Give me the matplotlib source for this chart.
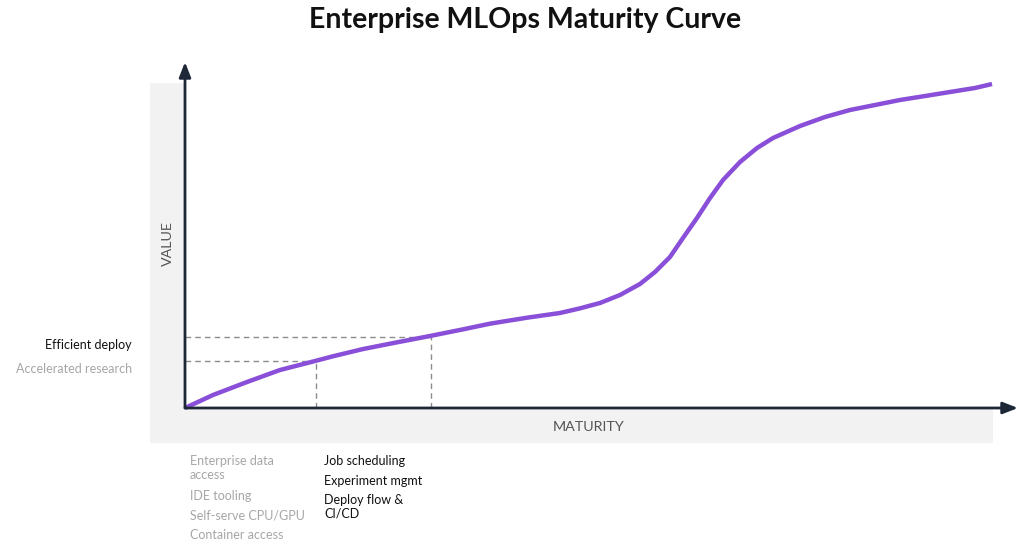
import matplotlib
matplotlib.use('Agg')
import numpy as np
import matplotlib.pyplot as plt
from matplotlib.patches import Rectangle

plt.rcParams['font.family'] = ['Lato', 'DejaVu Sans']

# curve (maturity vs value, 0-100 units)
maturity = [0, 3.36, 7.44, 11.40, 15.61, 17.77, 21.37, 25.45, 29.41, 33.37,
            36.61, 41.06, 45.02, 47.42, 49.82, 52.22, 54.62, 56.42, 58.22,
            59.78, 61.46, 63.03, 64.59, 66.63, 68.67, 70.59, 73.83, 76.83,
            79.83, 82.83, 85.83, 88.84, 91.84, 94.84, 96.88]
value = [0, 3.76, 7.51, 10.98, 13.58, 14.95, 17.04, 18.98, 20.81, 22.73,
         24.37, 26.10, 27.46, 28.80, 30.35, 32.66, 35.84, 39.31, 43.64,
         49.13, 54.91, 60.69, 65.90, 71.10, 75.14, 78.03, 81.50, 84.10,
         86.13, 87.57, 89.02, 90.17, 91.33, 92.49, 93.64]

# stage markers on the curve
stage_x = [15.7, 29.5]
stage_y = [13.6, 20.5]
stage_names = ['Accelerated research', 'Efficient deploy']
stage_colors = ['#a6a6a6', '#111111']

early_caps = ['Enterprise data\naccess', 'IDE tooling', 'Self-serve CPU/GPU',
              'Container access']
later_caps = ['Job scheduling', 'Experiment mgmt', 'Deploy flow &\nCI/CD']

W, H = 1024, 544
fig = plt.figure(figsize=(W / 100, H / 100), dpi=100)
ax = fig.add_axes([185 / W, (H - 408) / H, (1018 - 185) / W, (408 - 62) / H])
ax.set_xlim(0, 100)
ax.set_ylim(0, 100)
ax.axis('off')

axis_col = '#1e2738'
# grey panel behind the plot
ax.add_patch(Rectangle((-4.2, -10.1), 101.2, 104.0, facecolor='#f2f2f2',
                       edgecolor='none', clip_on=False, zorder=0))
# white inner area
ax.add_patch(Rectangle((0, 0), 97.0, 94.0, facecolor='white',
                       edgecolor='none', clip_on=False, zorder=0.5))

# dashed guides
for sx, sy in zip(stage_x, stage_y):
    ax.plot([0, sx], [sy, sy], ls=(0, (4, 3)), color='#8c8c8c', lw=1, zorder=1)
    ax.plot([sx, sx], [0, sy], ls=(0, (4, 3)), color='#8c8c8c', lw=1, zorder=1)

ax.plot(maturity, value, color='#8a4fd8', lw=3.2, solid_capstyle='butt',
        solid_joinstyle='round', zorder=3, clip_on=False)

# axis arrows
ax.annotate('', xy=(100, 0), xytext=(0, 0),
            arrowprops=dict(arrowstyle='-|>,head_length=0.9,head_width=0.35',
                            color=axis_col, lw=2, shrinkA=0, shrinkB=0),
            annotation_clip=False, zorder=4)
ax.annotate('', xy=(0, 100), xytext=(0, 0),
            arrowprops=dict(arrowstyle='-|>,head_length=0.9,head_width=0.35',
                            color=axis_col, lw=2, shrinkA=0, shrinkB=0),
            annotation_clip=False, zorder=4)

fig.text(525 / W, 1 - 20 / H, 'Enterprise MLOps Maturity Curve',
         ha='center', va='center', fontsize=20.5, fontweight='bold',
         color='#111111')
fig.text(168 / W, 1 - 244 / H, 'VALUE', rotation=90, ha='center',
         va='center', fontsize=10.3, color='#555555')
fig.text(589 / W, 1 - 427 / H, 'MATURITY', ha='center', va='center',
         fontsize=10.3, color='#555555')

# stage labels on the left
fig.text(132 / W, 1 - 345 / H, stage_names[1], ha='right', va='center',
         fontsize=9, color=stage_colors[1])
fig.text(132 / W, 1 - 369 / H, stage_names[0], ha='right', va='center',
         fontsize=9, color=stage_colors[0])

# capability lists under the axis (y = top of first line, pixels)
early_y = [455, 490, 509, 529]
for cap, yy in zip(early_caps, early_y):
    fig.text(190 / W, 1 - yy / H, cap, ha='left', va='top', fontsize=9,
             color=stage_colors[0], linespacing=1.2)
later_y = [455, 475, 494]
for cap, yy in zip(later_caps, later_y):
    fig.text(324 / W, 1 - yy / H, cap, ha='left', va='top', fontsize=9,
             color=stage_colors[1], linespacing=1.2)

fig.savefig('out.png', dpi=100)
